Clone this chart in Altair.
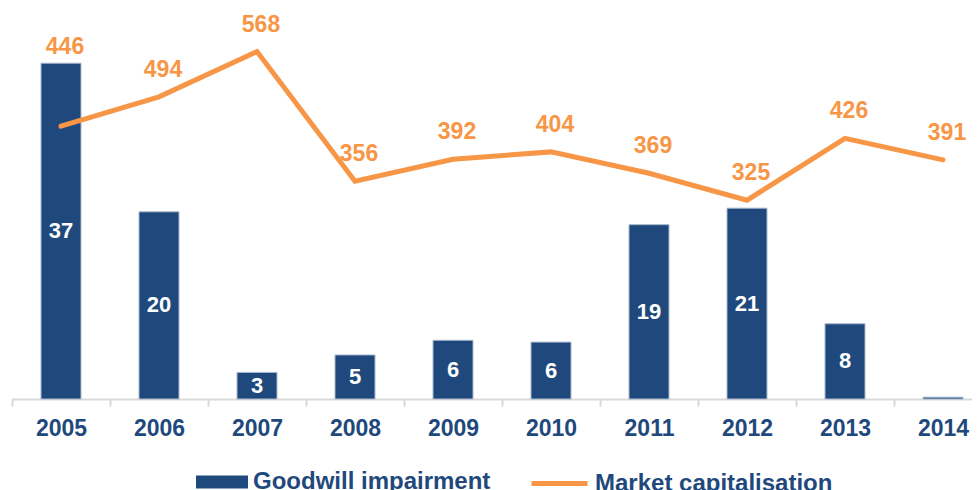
import altair as alt
import pandas as pd

years = ["2005", "2006", "2007", "2008", "2009", "2010", "2011", "2012", "2013", "2014"]
goodwill = [36.6, 20.4, 2.9, 4.8, 6.4, 6.2, 19.0, 20.8, 8.2, 0.2]
market_cap = [446, 494, 568, 356, 392, 404, 369, 325, 426, 391]

df = pd.DataFrame({"year": years, "goodwill": goodwill, "market_cap": market_cap})

BLUE = "#1F497D"
ORANGE = "#F79646"
GREY = "#D9D9D9"
FONT = "Liberation Sans"

x = alt.X(
    "year:O",
    scale=alt.Scale(paddingInner=0, paddingOuter=0),
    axis=alt.Axis(
        title=None, labelAngle=0, labelFont=FONT, labelFontSize=23,
        labelFontWeight="bold", labelColor=BLUE, labelPadding=11,
        tickBand="extent", tickSize=7, tickWidth=2, tickColor=GREY,
        domainColor=GREY, domainWidth=2, grid=False,
    ),
)

bar_scale = alt.Scale(domain=[0, 40])
line_scale = alt.Scale(domain=[0, 600])

base = alt.Chart(df)

bars = base.transform_calculate(s1="'Goodwill impairment'").mark_bar(
    size=40, stroke="#A9B8CC", strokeWidth=1
).encode(
    x=x,
    y=alt.Y("goodwill:Q", scale=bar_scale, axis=None),
    fill=alt.Fill(
        "s1:N",
        scale=alt.Scale(domain=["Goodwill impairment"], range=[BLUE]),
        legend=alt.Legend(
            title=None, orient="none", legendX=184, legendY=424,
            symbolType="M-1,-0.25H1V0.25H-1Z", symbolSize=2704,
            symbolStrokeWidth=0, labelFont=FONT, labelFontSize=24,
            labelFontWeight="bold", labelColor=BLUE, labelOffset=5,
            labelLimit=0, padding=0,
        ),
    ),
)

bar_text = base.transform_filter("datum.goodwill >= 0.5").transform_calculate(
    mid="datum.goodwill / 2"
).mark_text(
    font=FONT, fontSize=22, fontWeight="bold", color="white", baseline="middle"
).encode(
    x=x,
    y=alt.Y("mid:Q", scale=bar_scale, axis=None),
    text=alt.Text("goodwill:Q", format=".0f"),
)

line = base.transform_calculate(s2="'Market capitalisation'").mark_line(
    strokeWidth=5, strokeCap="round", strokeJoin="miter"
).encode(
    x=x,
    y=alt.Y("market_cap:Q", scale=line_scale, axis=None),
    stroke=alt.Stroke(
        "s2:N",
        scale=alt.Scale(domain=["Market capitalisation"], range=[ORANGE]),
        legend=alt.Legend(
            title=None, orient="none", legendX=517, legendY=421,
            symbolType="stroke", symbolSize=3136, symbolStrokeWidth=5,
            labelFont=FONT, labelFontSize=24, labelFontWeight="bold",
            labelColor=BLUE, labelOffset=5, labelLimit=0, padding=0,
        ),
    ),
)

line_text_first = base.transform_filter("datum.year == '2005'").mark_text(
    font=FONT, fontSize=23, fontWeight="bold", color=ORANGE, baseline="middle",
    dy=-79, dx=4
).encode(
    x=x,
    y=alt.Y("market_cap:Q", scale=line_scale, axis=None),
    text=alt.Text("market_cap:Q", format="d"),
)

line_text = base.transform_filter("datum.year != '2005'").mark_text(
    font=FONT, fontSize=23, fontWeight="bold", color=ORANGE, baseline="middle",
    dy=-27, dx=4
).encode(
    x=x,
    y=alt.Y("market_cap:Q", scale=line_scale, axis=None),
    text=alt.Text("market_cap:Q", format="d"),
)

chart = alt.layer(bars, bar_text, line, line_text_first, line_text).resolve_scale(
    y="independent"
).properties(
    width=980,
    height=367,
    autosize=alt.AutoSizeParams(type="none"),
    padding={"left": 4, "top": 24, "right": -20, "bottom": 91},
    background="white",
).configure_view(stroke=None)

chart.save("out.html", embed_options={"renderer": "svg", "actions": False})
